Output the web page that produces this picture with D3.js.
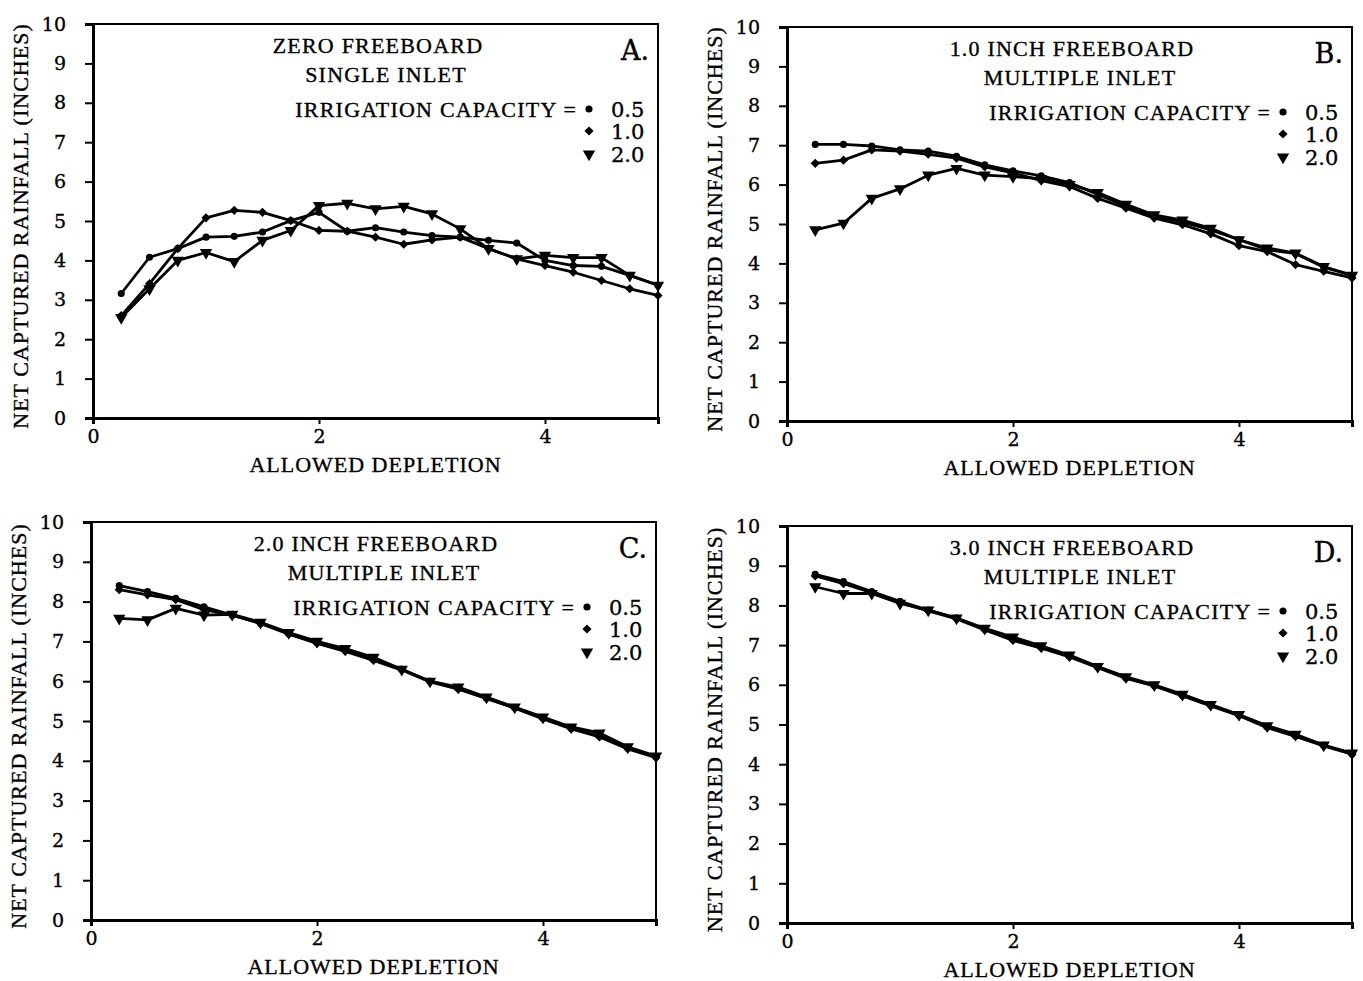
<!DOCTYPE html>
<html>
<head>
<meta charset="utf-8">
<script src="https://cdn.jsdelivr.net/npm/d3@7"></script>
<style>
  body { margin: 0; background: #fff; }
  text { fill: #000; stroke: #000; stroke-width: 0.35px; }
</style>
</head>
<body>
<svg id="chart" width="1363" height="981"></svg>
<script>
// allowed depletion (x) shared by all four panels
const depletion = [0.25, 0.5, 0.75, 1.0, 1.25, 1.5, 1.75, 2.0, 2.25, 2.5,
                   2.75, 3.0, 3.25, 3.5, 3.75, 4.0, 4.25, 4.5, 4.75, 5.0];
const capacityLabels = ["0.5", "1.0", "2.0"];
const yTickValues = [0, 1, 2, 3, 4, 5, 6, 7, 8, 9, 10];
const xTickValues = [0, 2, 4];

// A. zero freeboard, single inlet
const zeroCap05 = [3.16, 4.08, 4.3, 4.59, 4.61, 4.72, 5.01, 5.22, 4.74, 4.83,
                   4.72, 4.63, 4.59, 4.51, 4.44, 4.0, 3.87, 3.85, 3.62, 3.37];
const zeroCap10 = [2.6, 3.41, 4.3, 5.08, 5.27, 5.22, 5.01, 4.76, 4.74, 4.59,
                   4.41, 4.52, 4.59, 4.3, 4.04, 3.87, 3.7, 3.49, 3.28, 3.11];
const zeroCap20 = [2.55, 3.28, 4.0, 4.2, 3.97, 4.51, 4.76, 5.39, 5.45, 5.31,
                   5.37, 5.18, 4.8, 4.3, 4.04, 4.13, 4.07, 4.07, 3.62, 3.37];

// B. 1.0 inch freeboard, multiple inlet
const oneCap05 = [7.02, 7.02, 6.98, 6.88, 6.85, 6.72, 6.5, 6.35, 6.22, 6.05,
                  5.75, 5.45, 5.2, 5.05, 4.85, 4.6, 4.35, 4.25, 3.9, 3.7];
const oneCap10 = [6.54, 6.62, 6.88, 6.85, 6.77, 6.67, 6.45, 6.3, 6.1, 5.95,
                  5.65, 5.4, 5.15, 4.98, 4.75, 4.45, 4.3, 3.97, 3.8, 3.63];
const oneCap20 = [4.85, 5.02, 5.65, 5.89, 6.24, 6.41, 6.24, 6.2, 6.15, 6.0,
                  5.8, 5.5, 5.23, 5.1, 4.89, 4.6, 4.39, 4.26, 3.92, 3.7];

// C. 2.0 inch freeboard, multiple inlet
const twoCap05 = [8.4, 8.25, 8.08, 7.87, 7.66, 7.45, 7.2, 6.97, 6.8, 6.57,
                  6.3, 6.0, 5.82, 5.57, 5.33, 5.07, 4.82, 4.62, 4.32, 4.1];
const twoCap10 = [8.3, 8.17, 8.05, 7.8, 7.66, 7.45, 7.18, 6.95, 6.75, 6.52,
                  6.28, 5.98, 5.8, 5.57, 5.32, 5.05, 4.8, 4.6, 4.3, 4.08];
const twoCap20 = [7.58, 7.54, 7.83, 7.66, 7.68, 7.48, 7.22, 7.0, 6.82, 6.6,
                  6.3, 6.0, 5.85, 5.6, 5.35, 5.1, 4.85, 4.7, 4.35, 4.12];

// D. 3.0 inch freeboard, multiple inlet
const threeCap05 = [8.78, 8.6, 8.35, 8.1, 7.88, 7.68, 7.4, 7.15, 6.95, 6.72,
                    6.45, 6.18, 5.98, 5.73, 5.48, 5.23, 4.95, 4.72, 4.47, 4.26];
const threeCap10 = [8.74, 8.55, 8.32, 8.07, 7.86, 7.66, 7.38, 7.12, 6.92, 6.7,
                    6.43, 6.16, 5.97, 5.72, 5.47, 5.22, 4.92, 4.7, 4.46, 4.25];
const threeCap20 = [8.47, 8.3, 8.3, 8.05, 7.88, 7.68, 7.42, 7.2, 6.98, 6.75,
                    6.46, 6.2, 6.0, 5.76, 5.5, 5.25, 4.97, 4.75, 4.48, 4.28];

const panels = [
    { letter: "A.", title1: "ZERO FREEBOARD", title2: "SINGLE INLET",
      series: [zeroCap05, zeroCap10, zeroCap20], left: 93, top: 24, right: 658, bottom: 418 },
    { letter: "B.", title1: "1.0 INCH FREEBOARD", title2: "MULTIPLE INLET",
      series: [oneCap05, oneCap10, oneCap20], left: 787, top: 27, right: 1352, bottom: 421 },
    { letter: "C.", title1: "2.0 INCH FREEBOARD", title2: "MULTIPLE INLET",
      series: [twoCap05, twoCap10, twoCap20], left: 91, top: 522, right: 656, bottom: 920 },
    { letter: "D.", title1: "3.0 INCH FREEBOARD", title2: "MULTIPLE INLET",
      series: [threeCap05, threeCap10, threeCap20], left: 787, top: 526, right: 1352, bottom: 923 }
];

const serif = "'Liberation Serif', 'Times New Roman', serif";
const numFont = "'DejaVu Serif', serif";

// marker shapes: dot, diamond (rotated square), down triangle
const symbols = [
    d3.symbol().type(d3.symbolCircle).size(40),
    d3.symbol().type(d3.symbolSquare).size(42),
    d3.symbol().type(d3.symbolTriangle).size(66)
];
const symbolRotate = [0, 45, 180];

const svg = d3.select("#chart");

panels.forEach(function(p) {
    const x = d3.scaleLinear().domain([0, 5]).range([p.left, p.right]);
    const y = d3.scaleLinear().domain([0, 10]).range([p.bottom, p.top]);
    const g = svg.append("g");

    // frame
    g.append("rect")
        .attr("x", p.left).attr("y", p.top)
        .attr("width", p.right - p.left).attr("height", p.bottom - p.top)
        .attr("fill", "none").attr("stroke", "#000").attr("stroke-width", 2);

    // y axis
    const yAxis = g.append("g")
        .attr("transform", "translate(" + p.left + ",0)")
        .call(d3.axisLeft(y).tickValues(yTickValues).tickSize(8).tickPadding(19).tickFormat(d3.format("d")));
    yAxis.select(".domain").attr("stroke-width", 3);
    yAxis.selectAll(".tick line").attr("stroke-width", 2);
    yAxis.selectAll("text").attr("font-family", numFont).attr("font-size", 19).attr("fill", "#000");

    // x axis
    const xAxis = g.append("g")
        .attr("transform", "translate(0," + p.bottom + ")")
        .call(d3.axisBottom(x).tickValues(xTickValues).tickSize(6).tickPadding(6).tickFormat(d3.format("d")));
    xAxis.select(".domain").attr("stroke-width", 3);
    xAxis.selectAll(".tick line").attr("stroke-width", 2);
    xAxis.selectAll("text").attr("font-family", numFont).attr("font-size", 19).attr("fill", "#000");

    // axis titles
    g.append("text")
        .attr("x", (p.left + p.right) / 2).attr("y", p.bottom + 54)
        .attr("text-anchor", "middle")
        .attr("font-family", serif).attr("font-size", 22).attr("letter-spacing", 1)
        .text("ALLOWED DEPLETION");

    g.append("text")
        .attr("transform", "translate(" + (p.left - 65) + "," + ((p.top + p.bottom) / 2 + 5) + ") rotate(-90)")
        .attr("text-anchor", "middle")
        .attr("font-family", serif).attr("font-size", 22).attr("letter-spacing", 1)
        .text("NET CAPTURED RAINFALL (INCHES)");

    // lines and markers
    const line = d3.line()
        .x(function(d, i) { return x(depletion[i]); })
        .y(function(d) { return y(d); });

    p.series.forEach(function(vals, si) {
        g.append("path")
            .datum(vals)
            .attr("fill", "none").attr("stroke", "#000")
            .attr("stroke-width", 2.8).attr("stroke-linejoin", "round")
            .attr("d", line);

        g.selectAll(".m" + si)
            .data(vals)
            .enter().append("path")
            .attr("class", "m" + si)
            .attr("transform", function(d, i) {
                return "translate(" + x(depletion[i]) + "," + y(d) + ") rotate(" + symbolRotate[si] + ")";
            })
            .attr("d", symbols[si])
            .attr("fill", "#000");
    });

    // panel text
    g.append("text")
        .attr("x", p.left + 285).attr("y", p.top + 29)
        .attr("text-anchor", "middle")
        .attr("font-family", serif).attr("font-size", 22).attr("letter-spacing", 1.2)
        .text(p.title1);
    g.append("text")
        .attr("x", p.left + 293).attr("y", p.top + 58)
        .attr("text-anchor", "middle")
        .attr("font-family", serif).attr("font-size", 22).attr("letter-spacing", 1.2)
        .text(p.title2);
    g.append("text")
        .attr("x", p.right - 9).attr("y", p.top + 36)
        .attr("text-anchor", "end")
        .attr("font-family", numFont).attr("font-size", 27)
        .text(p.letter);

    g.append("text")
        .attr("x", p.left + 484).attr("y", p.top + 93)
        .attr("text-anchor", "end")
        .attr("font-family", serif).attr("font-size", 22).attr("letter-spacing", 1.2)
        .text("IRRIGATION CAPACITY =");

    const legendY = [p.top + 85, p.top + 107, p.top + 130];
    capacityLabels.forEach(function(lab, si) {
        g.append("path")
            .attr("transform", "translate(" + (p.left + 496) + "," + legendY[si] + ") rotate(" + symbolRotate[si] + ")")
            .attr("d", symbols[si])
            .attr("fill", "#000");
        g.append("text")
            .attr("x", p.left + 518).attr("y", legendY[si] + 8)
            .attr("font-family", numFont).attr("font-size", 21)
            .text(lab);
    });
});
</script>
</body>
</html>
